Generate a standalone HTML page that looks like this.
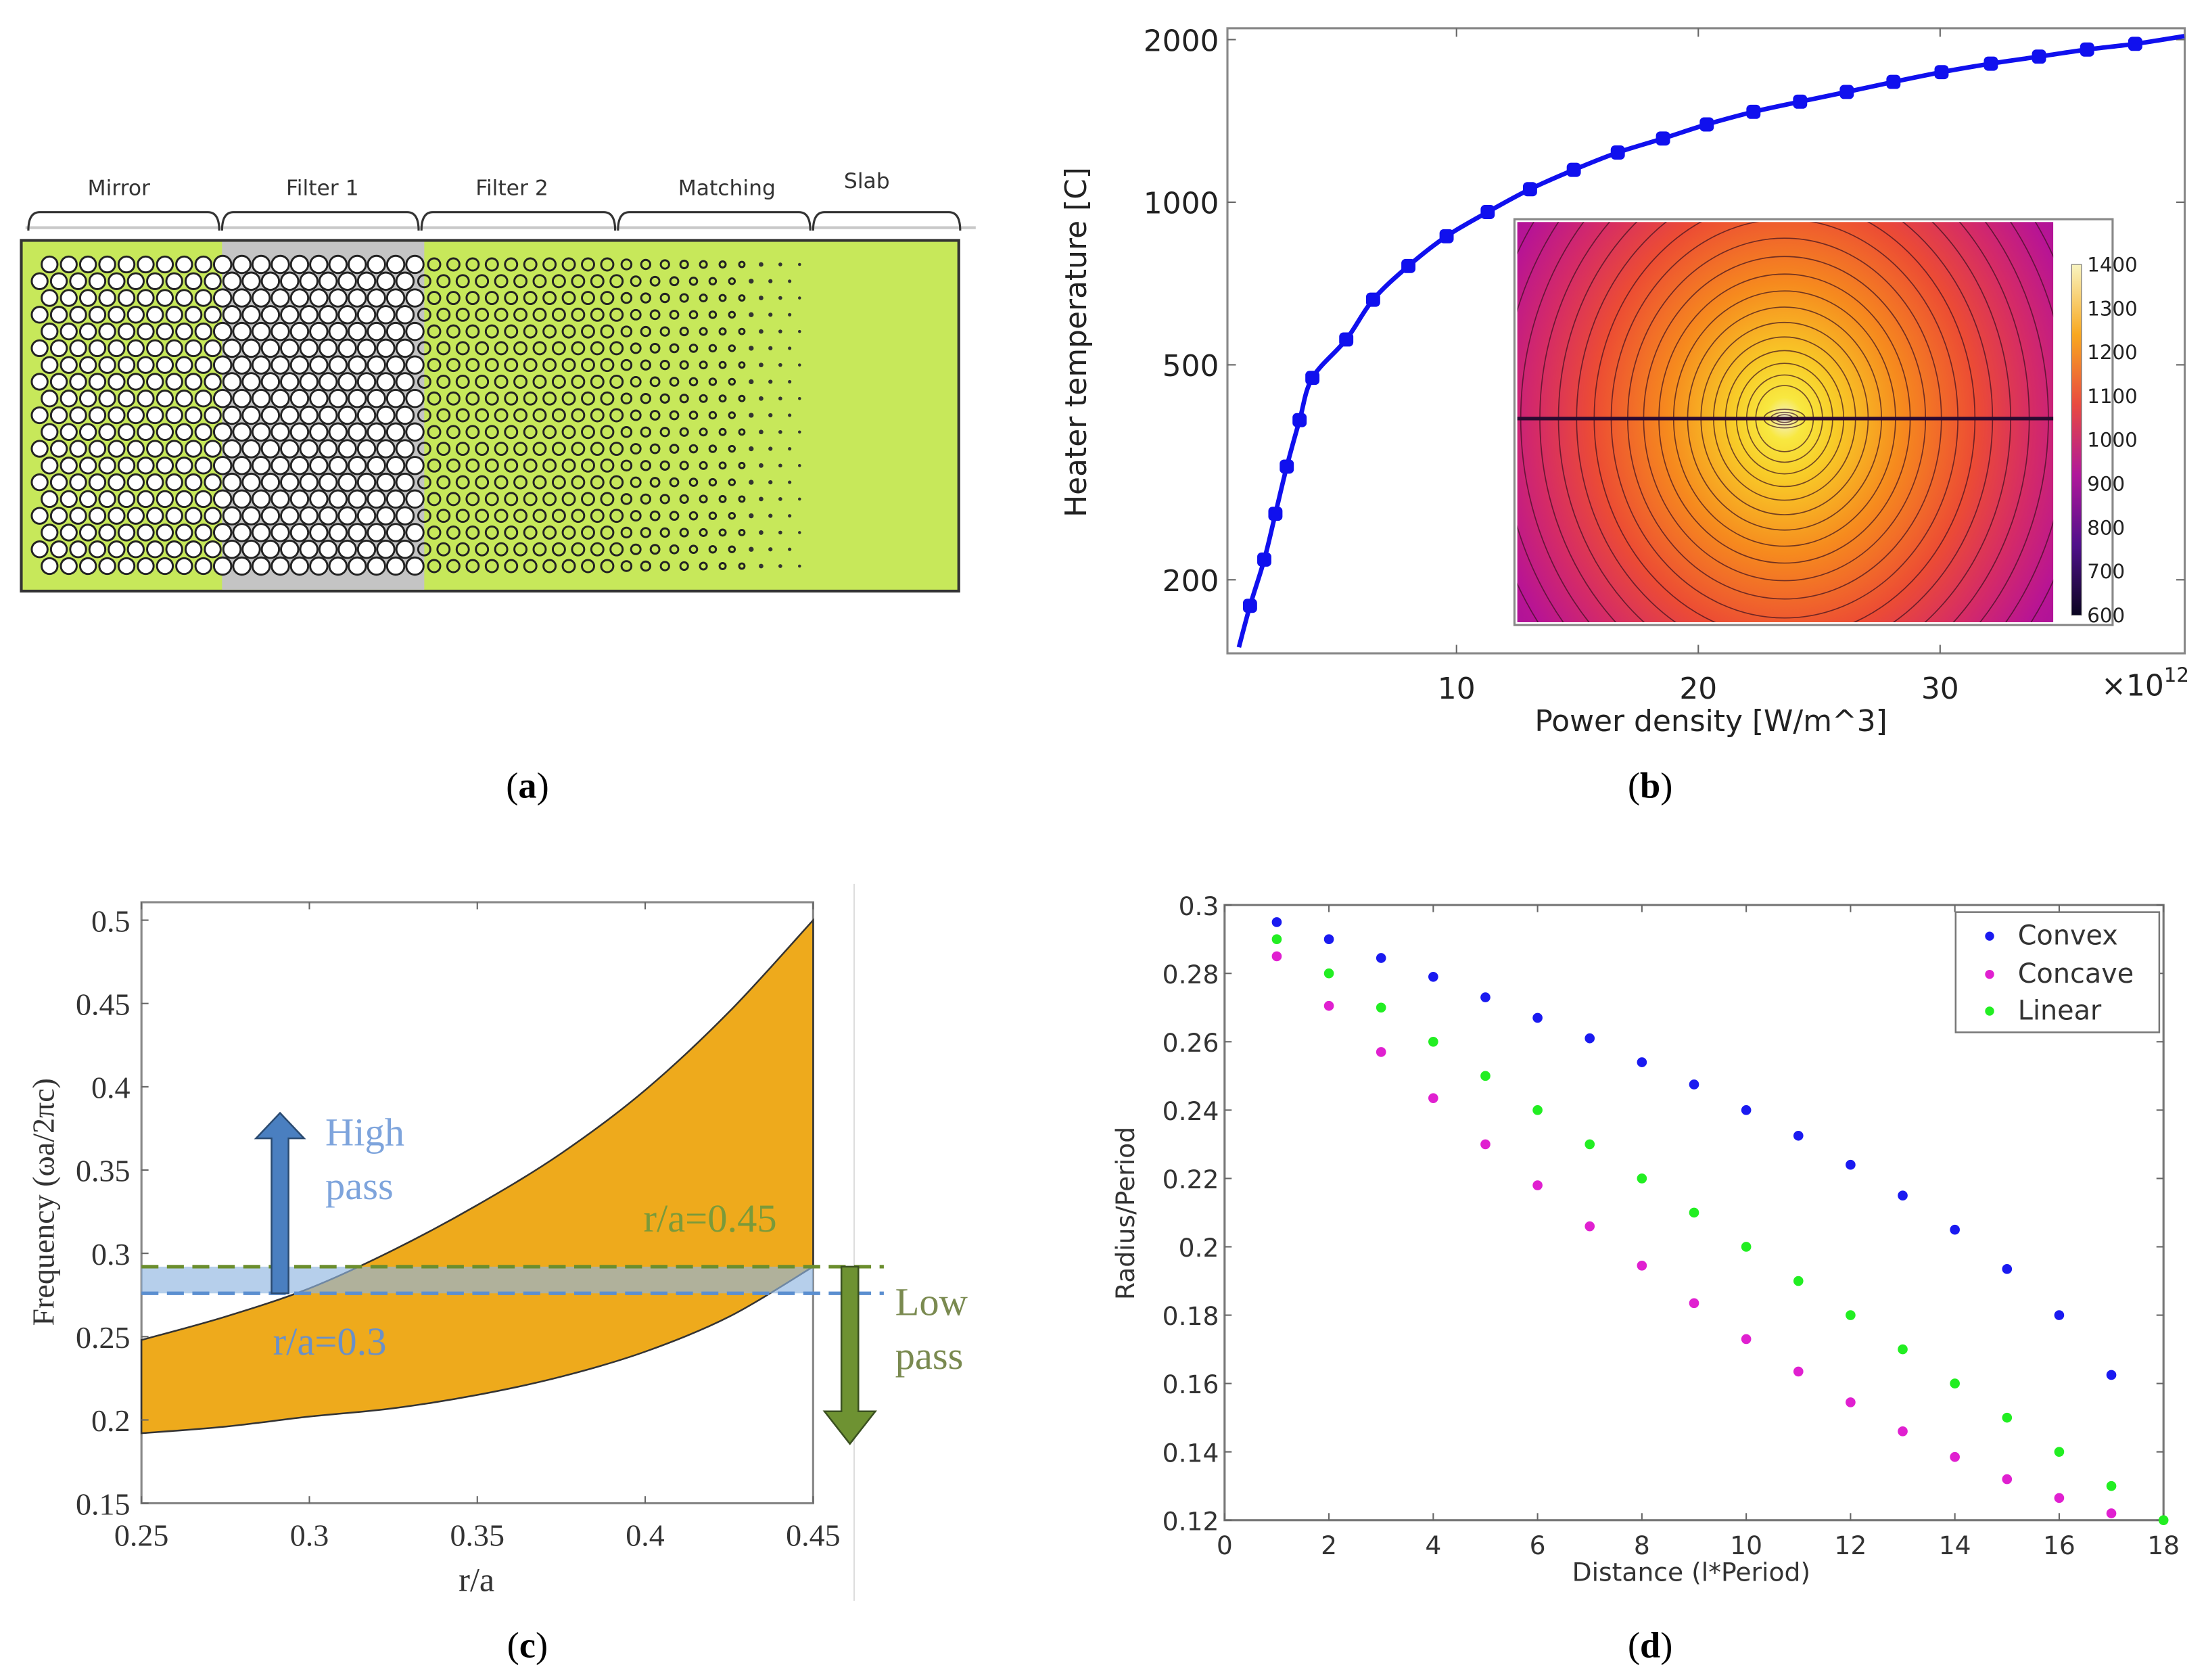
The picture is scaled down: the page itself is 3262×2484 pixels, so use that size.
<!DOCTYPE html>
<html><head><meta charset="utf-8">
<style>
html,body{margin:0;padding:0;background:#fff;}
svg{display:block;}
.sans{font-family:"DejaVu Sans","Liberation Sans",sans-serif;}
.serif{font-family:"Liberation Serif","DejaVu Serif",serif;}
</style></head>
<body>
<svg id="fig" width="3262" height="2484" viewBox="0 0 1560 1188" xmlns="http://www.w3.org/2000/svg">
<defs>
<radialGradient id="heat" cx="1262" cy="296" r="260" gradientUnits="userSpaceOnUse" gradientTransform="translate(1262 296) scale(1 1.15) translate(-1262 -296)">
<stop offset="0" stop-color="#f4f0d8"/>
<stop offset="0.05" stop-color="#f8e840"/>
<stop offset="0.14" stop-color="#f8cc28"/>
<stop offset="0.32" stop-color="#f68a1e"/>
<stop offset="0.52" stop-color="#ec4c34"/>
<stop offset="0.68" stop-color="#d42a68"/>
<stop offset="0.82" stop-color="#b81494"/>
<stop offset="1" stop-color="#9c10a4"/>
</radialGradient>
<linearGradient id="cbar" x1="0" y1="1" x2="0" y2="0">
<stop offset="0" stop-color="#0a0520"/><stop offset="0.2" stop-color="#50108a"/>
<stop offset="0.4" stop-color="#b0189a"/><stop offset="0.6" stop-color="#e84a40"/>
<stop offset="0.8" stop-color="#f8a820"/><stop offset="1" stop-color="#f8f4c0"/>
</linearGradient>
<clipPath id="heatclip"><rect x="1073" y="157" width="379" height="283"/></clipPath>
</defs>
<g id="pa"></g>
<g id="pb"></g>
<g id="pc"></g>
<g id="pd"></g>
<g class="serif" font-size="26" text-anchor="middle">
<text x="373" y="564">(<tspan font-weight="bold">a</tspan>)</text>
<text x="1167" y="564">(<tspan font-weight="bold">b</tspan>)</text>
<text x="373" y="1172">(<tspan font-weight="bold">c</tspan>)</text>
<text x="1167" y="1172">(<tspan font-weight="bold">d</tspan>)</text>
</g>
</svg>
<script>
// ---------- Panel B data ----------
const powerX=[1.46,2.05,2.51,2.98,3.51,4.04,5.44,6.55,8.01,9.59,11.29,13.04,14.85,16.67,18.54,20.35,22.28,24.21,26.14,28.07,30.06,32.1,34.09,36.08,38.07];
const tempY=[179,218,265,324,395,473,557,660,762,865,959,1057,1148,1236,1312,1393,1470,1535,1600,1670,1741,1805,1860,1917,1964];
const bXTicks=[10,20,30];
const bYTicks=[200,500,1000,2000];
const cbarTicks=[600,700,800,900,1000,1100,1200,1300,1400];
// ---------- Panel C data ----------
const raX=[0.25,0.275,0.3,0.325,0.35,0.375,0.4,0.425,0.45];
const upperF=[0.248,0.262,0.279,0.302,0.329,0.36,0.398,0.445,0.5];
const lowerF=[0.192,0.196,0.202,0.207,0.215,0.226,0.241,0.262,0.292];
const cXTicks=[0.25,0.3,0.35,0.4,0.45];
const cYTicks=[0.15,0.2,0.25,0.3,0.35,0.4,0.45,0.5];
const bandLow=0.276, bandHigh=0.292;
// ---------- Panel D data ----------
const distX=[1,2,3,4,5,6,7,8,9,10,11,12,13,14,15,16,17];
const convex=[0.295,0.29,0.2845,0.279,0.273,0.267,0.261,0.254,0.2475,0.240,0.2325,0.224,0.215,0.205,0.1935,0.180,0.1625];
const concave=[0.285,0.2705,0.257,0.2435,0.230,0.218,0.206,0.1945,0.1835,0.173,0.1635,0.1545,0.146,0.1385,0.132,0.1265,0.122];
const linearX=[1,2,3,4,5,6,7,8,9,10,11,12,13,14,15,16,17,18];
const linear=[0.29,0.28,0.27,0.26,0.25,0.24,0.23,0.22,0.21,0.20,0.19,0.18,0.17,0.16,0.15,0.14,0.13,0.12];
const dXTicks=[0,2,4,6,8,10,12,14,16,18];
const dYTicks=[0.12,0.14,0.16,0.18,0.2,0.22,0.24,0.26,0.28,0.3];

const NS="http://www.w3.org/2000/svg";
function mk(parent,tag,attrs,text){const e=document.createElementNS(NS,tag);for(const k in attrs)e.setAttribute(k,attrs[k]);if(text!==undefined)e.textContent=text;parent.appendChild(e);return e;}
function smooth(pts){ // catmull-rom -> bezier, returns segments after first point
 let d='';
 for(let i=0;i<pts.length-1;i++){
  const p0=pts[Math.max(0,i-1)],p1=pts[i],p2=pts[i+1],p3=pts[Math.min(pts.length-1,i+2)];
  const c1=[p1[0]+(p2[0]-p0[0])/6,p1[1]+(p2[1]-p0[1])/6];
  const c2=[p2[0]-(p3[0]-p1[0])/6,p2[1]-(p3[1]-p1[1])/6];
  d+=` C${c1[0]},${c1[1]} ${c2[0]},${c2[1]} ${p2[0]},${p2[1]}`;
 }
 return d;
}

// ================= PANEL A =================
(function(){
 const g=document.getElementById('pa');
 mk(g,'line',{x1:18,y1:161,x2:690,y2:161,stroke:'#c8c8c8','stroke-width':2});
 const secs=[["Mirror",20,155,84,138],["Filter 1",157,296,228,138],["Filter 2",298,435,362,138],["Matching",437,573,514,138],["Slab",575,679,613,133]];
 secs.forEach(s=>{
  const b=mk(g,'path',{d:`M${s[1]},163 Q${s[1]},150 ${s[1]+8},150 L${s[2]-8},150 Q${s[2]},150 ${s[2]},163`,fill:'none',stroke:'#333','stroke-width':1.5});
  
  
  const t=mk(g,'text',{x:s[3],y:s[4],'text-anchor':'middle','font-size':15,fill:'#333',class:'sans'},s[0]);
  
  
 });
 const bg=mk(g,'rect',{x:15,y:170,width:663,height:248,fill:'#c7e85a',stroke:'#333','stroke-width':2});
 
 
 mk(g,'rect',{x:157,y:171,width:143,height:246,fill:'#c4c4c4'});
 const dx=13.6, dy=11.85;
 for(let r=0;r<19;r++){
  const y=187+r*dy; const off=(r%2===0)?7:0;
  for(let c=0;c<40;c++){
   const x=28+off+c*dx; if(x>570) continue;
   let R,fill,sw;
   if(x<156){R=5.6;fill='#fff';sw=1.4;}
   else if(x<300){R=6.1;fill='#fff';sw=1.4;}
   else if(x<437){R=4.3;fill='none';sw=1.4;}
   else {const t=(x-437)/(570-437);R=3.6-2.6*t;fill='none';sw=1.4; if(R<1.8){fill='#333';sw=0;}}
   mk(g,'circle',{cx:x,cy:y,r:R,fill:fill,stroke:'#222','stroke-width':sw});
  }
 }
})();

// ================= PANEL B =================
(function(){
 const g=document.getElementById('pb');
 const L=868,R=1545,T=20,B=462;
 const xs=v=>859+v*17.1;
 const ys=v=>28+(Math.log10(2000)-Math.log10(v))*382;
 const ax=mk(g,'rect',{x:L,y:T,width:R-L,height:B-T,fill:'#fff',stroke:'#888','stroke-width':1.5});
 
 
 bXTicks.forEach(v=>{
  mk(g,'line',{x1:xs(v),y1:B,x2:xs(v),y2:B-6,stroke:'#666'});
  mk(g,'line',{x1:xs(v),y1:T,x2:xs(v),y2:T+6,stroke:'#666'});
  const t=mk(g,'text',{x:xs(v),y:B+32,'text-anchor':'middle','font-size':21,fill:'#222',class:'sans'},String(v));
  
  
 });
 bYTicks.forEach(v=>{
  mk(g,'line',{x1:L,y1:ys(v),x2:L+6,y2:ys(v),stroke:'#666'});
  mk(g,'line',{x1:R,y1:ys(v),x2:R-6,y2:ys(v),stroke:'#666'});
  const t=mk(g,'text',{x:L-6,y:ys(v)+8,'text-anchor':'end','font-size':21,fill:'#222',class:'sans'},String(v));
  
  
 });
 const mult=mk(g,'text',{x:1486,y:492,'font-size':21,fill:'#222',class:'sans'},'×10');
 
 
 mk(mult,'tspan',{'font-size':14,dy:-10},'12');
 const xt=mk(g,'text',{x:1210,y:517,'text-anchor':'middle','font-size':21,fill:'#222',class:'sans'},'Power density [W/m^3]');
 
 
 const yt=mk(g,'text',{x:0,y:0,transform:'translate(768 242) rotate(-90)','text-anchor':'middle','font-size':21,fill:'#222',class:'sans'},'Heater temperature [C]');
 
 
 const ins=mk(g,'g',{});
 
 
 mk(ins,'rect',{x:1071,y:155,width:423,height:287,fill:'#fff',stroke:'#888','stroke-width':1.5});
 mk(ins,'rect',{x:1073,y:157,width:379,height:283,fill:'url(#heat)'});
 const cg=mk(ins,'g',{'clip-path':'url(#heatclip)',fill:'none',stroke:'#3a1020','stroke-opacity':0.7,'stroke-width':0.8});
 for(let k=1;k<=24;k++){
  const r=4+240*Math.pow(k/24,1.5);
  mk(cg,'ellipse',{cx:1262,cy:296,rx:r,ry:r*(k<4?0.45:1.15)});
 }
 mk(ins,'line',{x1:1073,y1:296,x2:1452,y2:296,stroke:'#2a0a30','stroke-width':2.5});
 mk(ins,'rect',{x:1465,y:187,width:7,height:248,fill:'url(#cbar)',stroke:'#666','stroke-width':0.5});
 cbarTicks.forEach(v=>{
  const y=435-(v-600)/800*248;
  const t=mk(ins,'text',{x:1476,y:y+5,'font-size':14,fill:'#222',class:'sans'},String(v));
  
  
 });
 const pts=[[xs(1.0),ys(150)]];
 powerX.forEach((x,i)=>pts.push([xs(x),ys(tempY[i])]));
 pts.push([xs(40.1),ys(2030)]);
 const ln=mk(g,'path',{d:`M${pts[0][0]},${pts[0][1]}`+smooth(pts),fill:'none',stroke:'#1010ee','stroke-width':3.2,'stroke-linejoin':'round'});
 
 
 powerX.forEach((x,i)=>{
  const m=mk(g,'rect',{x:xs(x)-5,y:ys(tempY[i])-5,width:10,height:10,rx:3,fill:'#1010ee'});
  
  
 });
})();

// ================= PANEL C =================
(function(){
 const g=document.getElementById('pc');
 const L=100,R=575,T=638,B=1063;
 const xs=v=>L+(v-0.25)/0.2*(R-L);
 const ys=v=>1063-(v-0.15)/0.05*58.9;
 mk(g,'line',{x1:604,y1:625,x2:604,y2:1132,stroke:'#ddd','stroke-width':1});
 mk(g,'rect',{x:L,y:T,width:R-L,height:B-T,fill:'#fff',stroke:'#888','stroke-width':1.5});
 const up=raX.map((x,i)=>[xs(x),ys(upperF[i])]);
 const lo=raX.map((x,i)=>[xs(x),ys(lowerF[i])]).reverse();
 const d=`M${up[0][0]},${up[0][1]}`+smooth(up)+` L${lo[0][0]},${lo[0][1]}`+smooth(lo)+'Z';
 const gap=mk(g,'path',{d:d,fill:'#eeaa1c',stroke:'#333','stroke-width':1.2});
 
 
 const band=mk(g,'rect',{x:L,y:ys(bandHigh),width:R-L,height:ys(bandLow)-ys(bandHigh),fill:'#8fb5e0','fill-opacity':0.65});
 
 
 const gl=mk(g,'line',{x1:L,y1:ys(bandHigh),x2:625,y2:ys(bandHigh),stroke:'#6b8e2e','stroke-width':2.5,'stroke-dasharray':'12 6'});
 
 
 const bl=mk(g,'line',{x1:L,y1:ys(bandLow),x2:625,y2:ys(bandLow),stroke:'#5b8fd0','stroke-width':2.5,'stroke-dasharray':'12 6'});
 
 
 cXTicks.forEach(v=>{
  mk(g,'line',{x1:xs(v),y1:B,x2:xs(v),y2:B-5,stroke:'#666'});
  mk(g,'line',{x1:xs(v),y1:T,x2:xs(v),y2:T+5,stroke:'#666'});
  const t=mk(g,'text',{x:xs(v),y:B+30,'text-anchor':'middle','font-size':22,fill:'#333',class:'serif'},String(v));
  
  
 });
 cYTicks.forEach(v=>{
  mk(g,'line',{x1:L,y1:ys(v),x2:L+5,y2:ys(v),stroke:'#666'});
  const t=mk(g,'text',{x:L-8,y:ys(v)+8,'text-anchor':'end','font-size':22,fill:'#333',class:'serif'},String(v));
  
  
 });
 const xt=mk(g,'text',{x:337,y:1125,'text-anchor':'middle','font-size':24,fill:'#333',class:'serif'},'r/a');
 
 
 const yt=mk(g,'text',{x:0,y:0,transform:'translate(38 850) rotate(-90)','text-anchor':'middle','font-size':22,fill:'#333',class:'serif'},'Frequency (ωa/2πc)');
 
 
 const ha=mk(g,'path',{d:`M192,${ys(bandLow)} L192,805 L181,805 L198,787 L215,805 L204,805 L204,${ys(bandLow)} Z`,fill:'#4a7fc0',stroke:'#2a4a70','stroke-width':1.2});
 
 
 const la=mk(g,'path',{d:`M595,${ys(bandHigh)} L595,998 L583,998 L601,1021 L619,998 L607,998 L607,${ys(bandHigh)} Z`,fill:'#6e9232',stroke:'#3a5020','stroke-width':1.2});
 
 
 const txt=[["High",230,810,'#7ea4dc','high-pass-label'],["pass",230,848,'#7ea4dc','high-pass-label'],["r/a=0.45",455,871,'#7a9a3a','green-ra-label'],["r/a=0.3",193,958,'#6a90c8','blue-ra-label'],["Low",633,930,'#7a8a50','low-pass-label'],["pass",633,968,'#7a8a50','low-pass-label']];
 txt.forEach(a=>{
  const t=mk(g,'text',{x:a[1],y:a[2],'font-size':28,fill:a[3],class:'serif'},a[0]);
  
  
 });
})();

// ================= PANEL D =================
(function(){
 const g=document.getElementById('pd');
 const L=866,R=1530,T=640,B=1075;
 const xs=v=>L+v/18*(R-L);
 const ys=v=>B-(v-0.12)/0.18*(B-T);
 mk(g,'rect',{x:L,y:T,width:R-L,height:B-T,fill:'#fff',stroke:'#777','stroke-width':1.5});
 dXTicks.forEach(v=>{
  mk(g,'line',{x1:xs(v),y1:B,x2:xs(v),y2:B-5,stroke:'#666'});
  mk(g,'line',{x1:xs(v),y1:T,x2:xs(v),y2:T+5,stroke:'#666'});
  const t=mk(g,'text',{x:xs(v),y:B+24,'text-anchor':'middle','font-size':18,fill:'#333',class:'sans'},String(v));
  
  
 });
 dYTicks.forEach(v=>{
  mk(g,'line',{x1:L,y1:ys(v),x2:L+5,y2:ys(v),stroke:'#666'});
  mk(g,'line',{x1:R,y1:ys(v),x2:R-5,y2:ys(v),stroke:'#666'});
  const t=mk(g,'text',{x:L-4,y:ys(v)+7,'text-anchor':'end','font-size':18,fill:'#333',class:'sans'},String(+v.toFixed(2)));
  
  
 });
 const xt=mk(g,'text',{x:1196,y:1118,'text-anchor':'middle','font-size':18,fill:'#333',class:'sans'},'Distance (l*Period)');
 
 
 const yt=mk(g,'text',{x:0,y:0,transform:'translate(802 858) rotate(-90)','text-anchor':'middle','font-size':18,fill:'#333',class:'sans'},'Radius/Period');
 
 
 function series(xa,ya,col,name){
  xa.forEach((x,i)=>{
   const c=mk(g,'circle',{cx:xs(x),cy:ys(ya[i]),r:3.5,fill:col});
   
   
  });
 }
 series(distX,convex,'#1a1af0','convex-point');
 series(distX,concave,'#e020d0','concave-point');
 series(linearX,linear,'#22ee22','linear-point');
 const lg=mk(g,'g',{});
 
 
 mk(lg,'rect',{x:1383,y:645,width:144,height:85,fill:'#fff',stroke:'#777','stroke-width':1.2});
 [["Convex",'#1a1af0',668],["Concave",'#e020d0',695],["Linear",'#22ee22',721]].forEach(e=>{
  const it=mk(lg,'g',{});
  
  
  mk(it,'circle',{cx:1407,cy:e[2]-6,r:3.2,fill:e[1]});
  mk(it,'text',{x:1427,y:e[2],'font-size':19,fill:'#333',class:'sans'},e[0]);
 });
})();
</script>
</body></html>
